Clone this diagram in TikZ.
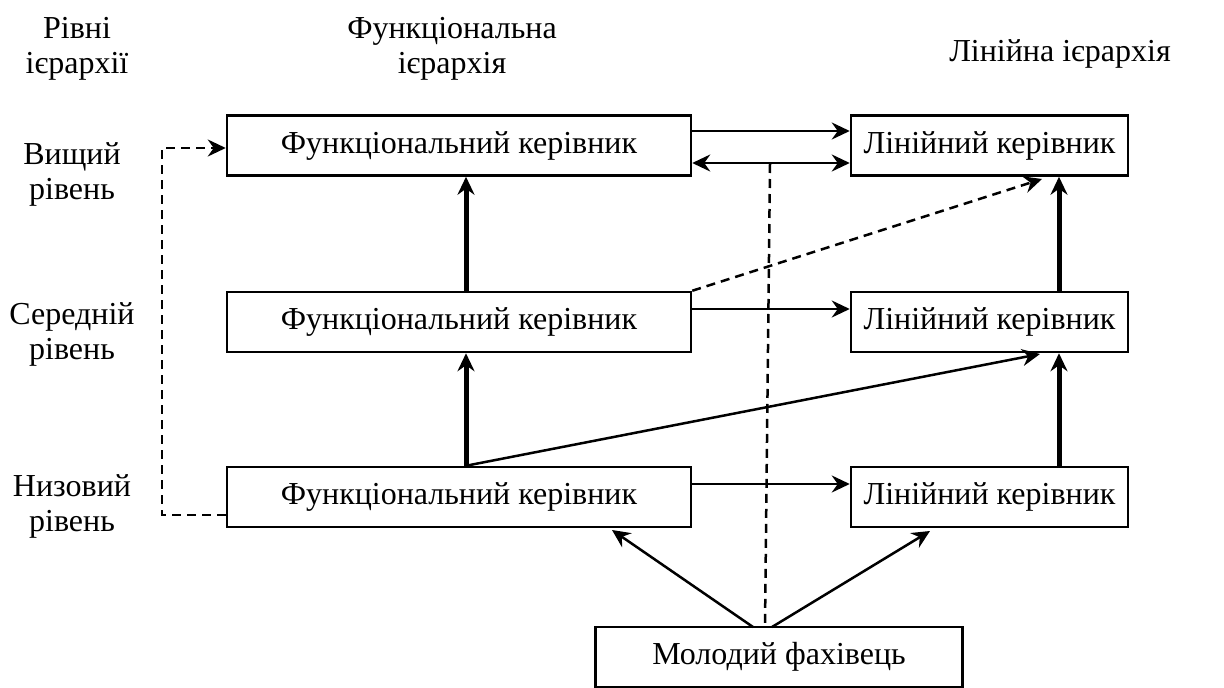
\documentclass[tikz,border=0pt]{standalone}
\usepackage{fontspec}
\setmainfont{Liberation Serif}
\usetikzlibrary{arrows.meta}
\begin{document}
\begin{tikzpicture}[x=1pt,y=-1pt,
  box/.style={draw,line width=2.5pt,minimum height=60pt,inner sep=0pt,font=\fontsize{32}{38}\selectfont},
  lbl/.style={align=center,font=\fontsize{32}{35}\selectfont,inner sep=0pt},
  tip/.style={-{Stealth[length=18pt,width=17pt,inset=6pt]}},
  thin/.style={line width=2.5pt},
  thick/.style={line width=5pt},
  dsh/.style={line width=2.5pt,dash pattern=on 9pt off 6pt}]
\useasboundingbox (0,0) rectangle (1224,688);
\node[box,minimum width=464pt] (F1) at (459,145.5) {Функціональний керівник};
\node[box,minimum width=277pt] (L1) at (989.5,145.5) {Лінійний керівник};
\node[box,minimum width=464pt] (F2) at (459,322) {Функціональний керівник};
\node[box,minimum width=277pt] (L2) at (989.5,322) {Лінійний керівник};
\node[box,minimum width=464pt] (F3) at (459,497) {Функціональний керівник};
\node[box,minimum width=277pt] (L3) at (989.5,497) {Лінійний керівник};
\node[box,minimum width=367pt] (M) at (779,657) {Молодий фахівець};
% headers
\node[lbl] (h1) at (77,49) {Рівні\\ієрархії};
\node[lbl] (h2) at (452,49) {Функціональна\\ієрархія};
\node[lbl] (h3) at (1060,54) {Лінійна ієрархія};
\node[lbl] (v1) at (72,174) {Вищий\\рівень};
\node[lbl] (v2) at (72,334) {Середній\\рівень};
\node[lbl] (v3) at (72,506) {Низовий\\рівень};
% horizontal arrows
\draw[thin,tip] (F1.east |- 0,131) -- (L1.west |- 0,131);
\draw[thin,{Stealth[length=18pt,width=17pt,inset=6pt]}-{Stealth[length=18pt,width=17pt,inset=6pt]}] (F1.east |- 0,163) -- (L1.west |- 0,163);
\draw[thin,tip] (F2.east |- 0,309) -- (L2.west |- 0,309);
\draw[thin,tip] (F3.east |- 0,484) -- (L3.west |- 0,484);
% vertical thick arrows
\draw[thick,tip] (F2.north -| 466,0) -- (F1.south -| 466,0);
\draw[thick,tip] (F3.north -| 466,0) -- (F2.south -| 466,0);
\draw[thick,tip] (L2.north -| 1059,0) -- (L1.south -| 1059,0);
\draw[thick,tip] (L3.north -| 1059,0) -- (L2.south -| 1059,0);
% diagonals
\coordinate (a1) at (1042,179);
\draw[dsh,tip] (F2.north east) -- (a1);
\coordinate (a2) at (1040,354);
\draw[thin,tip] (F3.north -| 466,0) -- (a2);
\coordinate (m1) at (753,627);
\coordinate (m2) at (772,627);
\coordinate (t1) at (612,530);
\coordinate (t2) at (930,531);
\draw[thin,tip] (m1) -- (t1);
\draw[thin,tip] (m2) -- (t2);
% dashed vertical
\coordinate (d1) at (770,164);
\draw[dsh] (d1) -- (M.north -| 765,0);
% left dashed
\coordinate (c1) at (162,515);
\coordinate (c2) at (162,148);
\draw[dsh,tip] (F3.west |- c1) -- (c1) -- (c2) -- (F1.west |- c2);
\end{tikzpicture}
\end{document}
